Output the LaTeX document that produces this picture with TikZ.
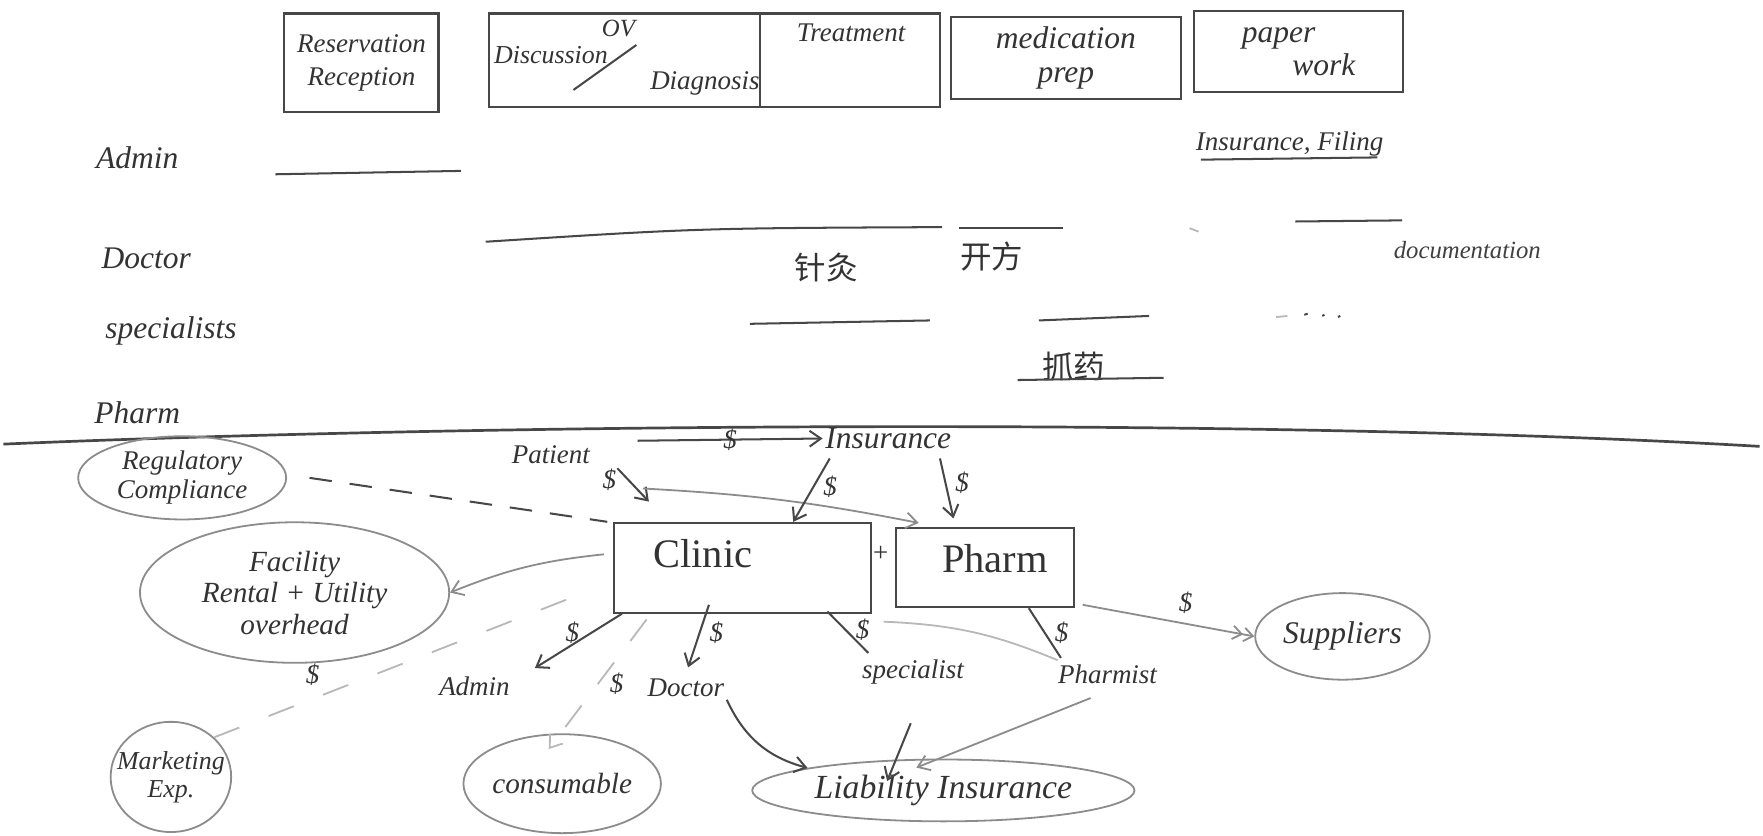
\documentclass[tikz,border=0pt]{standalone}
\usepackage{fontspec}
\setmainfont{Liberation Serif}
\newfontfamily\cjk{Noto Sans CJK SC}
\usetikzlibrary{arrows.meta,shapes.geometric,calc}
\begin{document}
\begin{tikzpicture}[x=0.5pt,y=-0.5pt,
  pencil/.style={draw=black!72,line width=0.9pt},
  faint/.style={draw=black!28,line width=0.8pt},
  arr/.style={-{Straight Barb[length=5pt,width=7pt]}},
  dblarr/.style={-{Straight Barb[length=4pt,width=6pt]Straight Barb[length=4pt,width=6pt]}},
  hand/.style={font=\itshape\fontsize{12}{13}\selectfont,text=black!80,inner sep=1pt},
  hbig/.style={font=\itshape\fontsize{14}{15}\selectfont,text=black!80,inner sep=1pt},
  rowlab/.style={font=\itshape\fontsize{14}{15}\selectfont,text=black!80,inner sep=1pt},
  big/.style={font=\fontsize{18}{19}\selectfont,text=black!80,inner sep=1pt},
  boxst/.style={pencil,rectangle},
  ell/.style={ellipse,draw=black!45,line width=0.8pt,inner sep=0pt,align=center},
  cn/.style={font=\cjk\fontsize{14}{15}\selectfont,text=black!80,inner sep=1pt},
  dl/.style={font=\itshape\fontsize{11}{12}\selectfont,text=black!75,inner sep=1pt}
]
\useasboundingbox[fill=white] (0,0) rectangle (1568,743.5);

% ---------- top process boxes ----------
\node[boxst,minimum width=68.5pt,minimum height=44pt,hand,align=center] (resv) at (321.5,56) {Reservation\\[2pt]Reception};
\node[boxst,minimum width=120.5pt,minimum height=41.5pt] (disc) at (555.5,53.5) {};
\node[boxst,minimum width=80pt,minimum height=41.5pt] (treat) at (756,53.5) {};
\node[hand,font=\itshape\fontsize{11}{12}\selectfont] (ov) at (550,25) {OV};
\node[hand,font=\itshape\fontsize{11.5}{12}\selectfont] (discw) at (490,49) {Discussion};
\node[hand] (diag) at (627,74) {Diagnosis};
\draw[pencil] (510,80) -- (566,40);
\node[hand] (treatw) at (757,29) {Treatment};
\node[boxst,minimum width=102pt,minimum height=36.5pt,hbig,align=center] (med) at (948,51.5) {medication\\prep};
\node[boxst,minimum width=93pt,minimum height=36pt,hbig,align=left] (paper) at (1155,46) {paper\\\hspace{1.6em}work};

% ---------- swimlane rows ----------
\node[rowlab] (rAdmin) at (122,140) {Admin};
\node[rowlab] (rDoctor) at (130,230) {Doctor};
\node[rowlab] (rSpec) at (152,294) {specialists};
\node[rowlab] (rPharm) at (122,367) {Pharm};

\draw[pencil] (245,155) -- (410,152);
\node[hand] (insf) at (1147,128) {Insurance, Filing};
\draw[pencil] (1068,142) -- (1225,140);

\draw[pencil] (432,215) .. controls (620,203) .. (838,202);
\draw[pencil] (853,203) -- (945,203);
\draw[faint] (1058,203) -- (1066,206);
\draw[pencil] (1152,197) -- (1247,196);
\node[dl] (docu) at (1305,222) {documentation};
\node[cn] (zj) at (735,238) {针灸};
\node[cn] (kf) at (882,228) {开方};

\draw[pencil] (667,288) -- (827,285);
\draw[pencil] (924,285) -- (1022,281);
\draw[faint] (1135,282) -- (1145,281);
\draw[pencil] (1160,280) -- (1163,279);
\draw[pencil] (1176,281) -- (1178,280);
\draw[pencil] (1190,282) -- (1192,281);
\node[cn] (zy) at (955,326) {抓药};
\draw[pencil] (905,338) -- (1035,336);

% divider
\draw[pencil,line width=1.2pt] (3,395) .. controls (400,378) and (1100,370) .. (1565,397);

% ---------- money flow ----------
\node[hand] (patient) at (490,404) {Patient};
\node[hbig] (insurance) at (790,390) {Insurance};
\coordinate (ins0) at (567,392);
\draw[pencil,arr] (ins0) -- (insurance.west) node[pos=0.5,hand]{\$};

\node[boxst,minimum width=114.5pt,minimum height=40pt] (clinic) at (660.5,505) {};
\node[big] (clinicw) at (625,492) {Clinic};
\node[boxst,minimum width=79pt,minimum height=35pt] (pharm) at (876,505) {};
\node[big] (pharmw) at (885,497) {Pharm};
\node[hand] (plus) at (783,493) {+};

\draw[pencil,arr] ($(patient.south east)+(22,2)$) -- ($(clinic.north west)+(32,-18)$) node[pos=0.35,left=4pt,hand]{\$};
\draw[faint,draw=black!45,arr] ($(patient.south east)+(45,20)$) to[bend left=4] ($(pharm.north west)+(21,-4)$);
\draw[pencil,arr] ($(insurance.south)+(-52,6)$) -- ($(clinic.north)+(45,0)$) node[pos=0.45,right=3pt,hand]{\$};
\draw[pencil,arr] ($(insurance.south)+(46,6)$) -- ($(pharm.north)+(-28,-8)$) node[pos=0.4,right=3pt,hand]{\$};

\node[ell,minimum width=92.5pt,minimum height=37pt,hand] (reg) at (162,425) {Regulatory\\Compliance};
\draw[pencil,dash pattern=on 10pt off 8pt] ($(reg.east)+(20,0)$) -- ($(clinic.north west)+(-5,0)$);

\node[ell,minimum width=137.5pt,minimum height=62.5pt,hand,font=\itshape\fontsize{13}{14}\selectfont] (fac) at (262,527) {Facility\\Rental + Utility\\overhead};
\draw[faint,draw=black!45,arr] ($(clinic.west)+(-8,-12)$) to[bend right=8] (fac.east) node[pos=0.6,above=1pt,hand]{\$};

\node[hand] (adm) at (422,610) {Admin};
\node[hand] (doc) at (610,612) {Doctor};
\node[hand] (spec) at (812,598) {specialist};
\node[hand] (pharmist) at (985,600) {Pharmist};

\draw[pencil,arr] ($(clinic.south west)+(8,0)$) -- ($(adm.north east)+(20,-5)$) node[pos=0.35,left=4pt,hand]{\$};
\draw[pencil,arr] ($(clinic.south)+(-30,-8)$) -- ($(doc.north)+(2,-8)$) node[pos=0.45,right=3pt,hand]{\$};
\draw[pencil] ($(clinic.south east)+(-40,-2)$) -- ($(spec.north west)+(8,-4)$) node[pos=0.45,right=3pt,hand]{\$};
\draw[pencil] ($(pharm.south)+(39,0)$) -- ($(pharmist.north west)+(5,-4)$) node[pos=0.5,right=3pt,hand]{\$};
\draw[faint] ($(clinic.south east)+(10,7)$) to[bend left=10] ($(pharmist.north west)+(2,-2)$);

\node[ell,minimum width=76pt,minimum height=38.5pt,hbig] (sup) at (1194,566) {Suppliers};
\draw[faint,draw=black!45,dblarr] ($(pharm.south east)+(7,-3)$) -- (sup.west) node[pos=0.6,above=3pt,hand]{\$};

\node[ell,inner xsep=-5pt,minimum width=48pt,minimum height=49pt,font=\itshape\fontsize{11.5}{12.5}\selectfont,text=black!80] (mkt) at (152,691) {Marketing\\Exp.};
\draw[faint,dash pattern=on 12pt off 14pt] (mkt.north east) -- ($(clinic.west)+(-20,20)$) node[pos=0.3,above left=2pt,hand]{\$};

\node[ell,minimum width=87.5pt,minimum height=44pt,font=\itshape\fontsize{13}{14}\selectfont,text=black!80] (con) at (500,697) {consumable};
\draw[faint,dash pattern=on 12pt off 12pt,arr] ($(clinic.south west)+(30,5)$) -- ($(con.north)+(-12,14)$) node[pos=0.5,right=4pt,hand]{\$};

\node[ell,minimum width=170pt,minimum height=27.5pt,font=\itshape\fontsize{15}{16}\selectfont,text=black!80] (liab) at (839,703) {Liability Insurance};
\draw[pencil,arr] (doc.south east) to[bend right=25] (liab.north west);
\draw[pencil,arr] ($(spec.south)+(-2,32)$) -- ($(liab.north)+(-50,20)$);
\draw[faint,draw=black!45,arr] ($(pharmist.south)+(-15,10)$) -- ($(liab.north)+(-24,8)$);
\end{tikzpicture}
\end{document}
